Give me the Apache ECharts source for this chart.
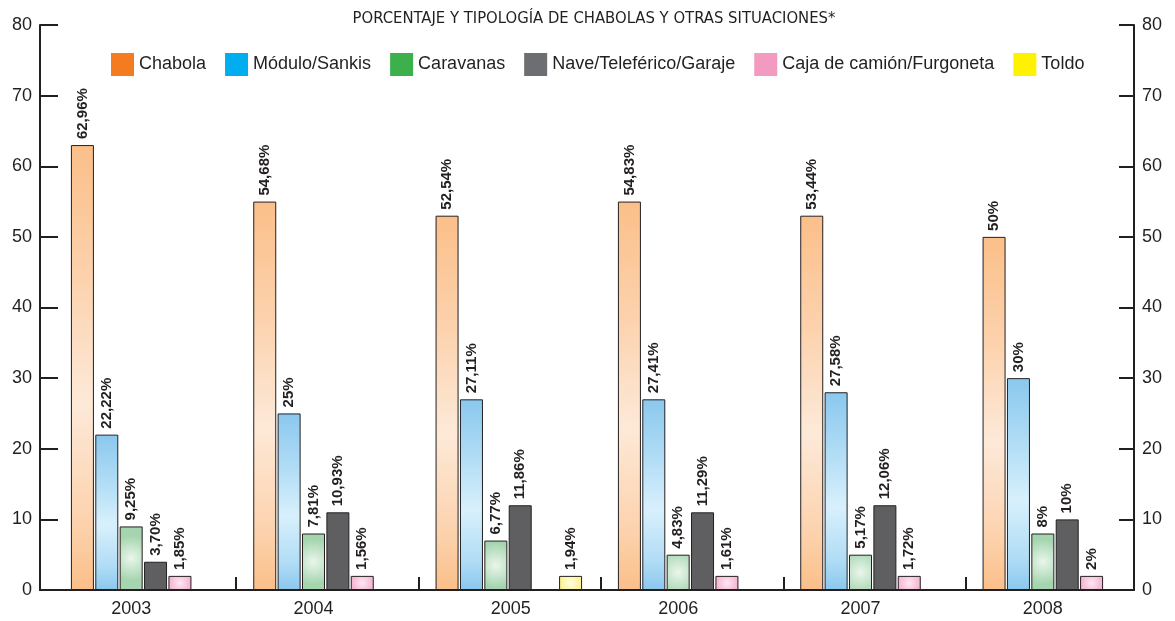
<!DOCTYPE html>
<html>
<head>
<meta charset="utf-8">
<script src="https://cdn.jsdelivr.net/npm/echarts@6/dist/echarts.min.js"></script>
<style>
html,body{margin:0;padding:0;background:#fff;}
#c{width:1175px;height:621px;}
</style>
</head>
<body>
<div id="c"></div>
<script>
const titleText = 'PORCENTAJE Y TIPOLOGÍA DE CHABOLAS Y OTRAS SITUACIONES*';
const categories = ['2003', '2004', '2005', '2006', '2007', '2008'];
const seriesNames = ['Chabola', 'Módulo/Sankis', 'Caravanas', 'Nave/Teleférico/Garaje', 'Caja de camión/Furgoneta', 'Toldo'];

const chabola   = [63, 55, 53, 55, 53, 50];
const modulo    = [22, 25, 27, 27, 28, 30];
const caravanas = [9, 8, 7, 5, 5, 8];
const nave      = [4, 11, 12, 11, 12, 10];
const caja      = [2, 2, null, 2, 2, 2];
const toldo     = [null, null, 2, null, null, null];

const chabolaLabels   = ['62,96%', '54,68%', '52,54%', '54,83%', '53,44%', '50%'];
const moduloLabels    = ['22,22%', '25%', '27,11%', '27,41%', '27,58%', '30%'];
const caravanasLabels = ['9,25%', '7,81%', '6,77%', '4,83%', '5,17%', '8%'];
const naveLabels      = ['3,70%', '10,93%', '11,86%', '11,29%', '12,06%', '10%'];
const cajaLabels      = ['1,85%', '1,56%', '', '1,61%', '1,72%', '2%'];
const toldoLabels     = ['', '', '1,94%', '', '', ''];

const yTicks = [0, 10, 20, 30, 40, 50, 60, 70, 80];

const legendColors = ['#f47b20', '#00aeef', '#3cb04a', '#6d6e71', '#f39ac0', '#fff200'];

const ink = '#231f20';
const FONT = '"Liberation Sans", Arial, sans-serif';

function vgrad(edge, light, mid) {
  return new echarts.graphic.LinearGradient(0, 0, 0, 1, [
    {offset: 0, color: edge},
    {offset: 0.3, color: mid},
    {offset: 0.58, color: light},
    {offset: 0.85, color: mid},
    {offset: 1, color: edge}
  ]);
}
function rgrad(edge, light) {
  return new echarts.graphic.RadialGradient(0.5, 0.5, 1.3, [
    {offset: 0, color: light},
    {offset: 0.75, color: edge},
    {offset: 1, color: edge}
  ]);
}

const fills = [
  vgrad('#fbbf89', '#fde9d8', '#fcd2ad'),
  vgrad('#8ac8ee', '#d8f0fc', '#b0dcf5'),
  rgrad('#a5d5ae', '#eaf6ec'),
  '#5f5f61',
  rgrad('#f3a5ca', '#fde8f2'),
  rgrad('#fcef78', '#fffde2')
];

const values = [chabola, modulo, caravanas, nave, caja, toldo];
const labels = [chabolaLabels, moduloLabels, caravanasLabels, naveLabels, cajaLabels, toldoLabels];

function makeSeries(i, xIdx) {
  return {
    name: seriesNames[i],
    type: 'bar',
    xAxisIndex: xIdx,
    yAxisIndex: 0,
    barWidth: 23,
    barGap: xIdx === 0 ? '6%' : '550%',
    data: values[i].map(v => v == null ? '-' : v),
    itemStyle: {color: fills[i], borderColor: ink, borderWidth: 1},
    emphasis: {disabled: true},
    label: {
      show: true,
      position: 'top',
      distance: 6,
      rotate: 90,
      align: 'left',
      verticalAlign: 'middle',
      fontFamily: FONT,
      fontSize: 15,
      fontWeight: 'bold',
      color: ink,
      formatter: p => labels[i][p.dataIndex]
    }
  };
}

const series = [];
for (let i = 0; i < 5; i++) series.push(makeSeries(i, 0));
series.push({
  name: '_spacer', type: 'bar', xAxisIndex: 1, yAxisIndex: 0, barWidth: 23, barGap: '550%',
  data: categories.map(() => '-'), silent: true
});
series.push(makeSeries(5, 1));

const catData = categories.map(c => c === '2005' ? {value: c, textStyle: {padding: [0, 0, 0, 30]}} : c);

const yAxisCommon = {
  type: 'value', min: yTicks[0], max: yTicks[yTicks.length - 1], interval: 10,
  splitLine: {show: false},
  axisLine: {show: true, lineStyle: {color: ink, width: 2}},
  axisLabel: {color: ink, fontFamily: FONT, fontSize: 18, margin: 8},
};

const option = {
  animation: false,
  backgroundColor: '#fff',
  title: {
    text: titleText, left: 589, textAlign: 'center', top: 5,
    textStyle: {fontFamily: '"Liberation Sans Narrow", "DejaVu Sans Condensed", sans-serif', fontSize: 16.5, fontWeight: 'normal', color: ink}
  },
  legend: {
    left: 106, top: 48, itemWidth: 23, itemHeight: 23, itemGap: 19,
    icon: 'rect',
    textStyle: {fontFamily: FONT, fontSize: 18, color: ink},
    data: seriesNames.map((n, i) => ({name: n, itemStyle: {color: legendColors[i], borderWidth: 0}})),
    selectedMode: false
  },
  grid: [
    {left: 40, right: 41, top: 25, bottom: 31, containLabel: false},
    {left: 236, right: 209, top: 25, bottom: 31, containLabel: false}
  ],
  xAxis: [
    {
      type: 'category', gridIndex: 0, data: catData,
      axisLine: {show: true, lineStyle: {color: ink, width: 2}},
      axisTick: {show: false},
      axisLabel: {color: ink, fontFamily: FONT, fontSize: 18, margin: 10, interval: 0}
    },
    {
      type: 'category', gridIndex: 0, data: categories, show: false
    },
    {
      type: 'category', gridIndex: 1, data: ['', '', '', ''],
      axisLine: {show: false},
      axisLabel: {show: false},
      axisTick: {show: true, inside: true, length: 13, interval: 0, lineStyle: {color: ink, width: 2}}
    }
  ],
  yAxis: [
    Object.assign({}, yAxisCommon, {
      gridIndex: 0, position: 'left',
      axisTick: {show: true, inside: true, length: 18, lineStyle: {color: ink, width: 2}}
    }),
    Object.assign({}, yAxisCommon, {
      gridIndex: 0, position: 'right',
      axisTick: {show: true, inside: true, length: 15, lineStyle: {color: ink, width: 2}}
    }),
    {type: 'value', gridIndex: 1, show: false, min: 0, max: 80}
  ],
  series: series
};

const chart = echarts.init(document.getElementById('c'), null, {renderer: 'canvas'});
chart.setOption(option);
</script>
</body>
</html>
